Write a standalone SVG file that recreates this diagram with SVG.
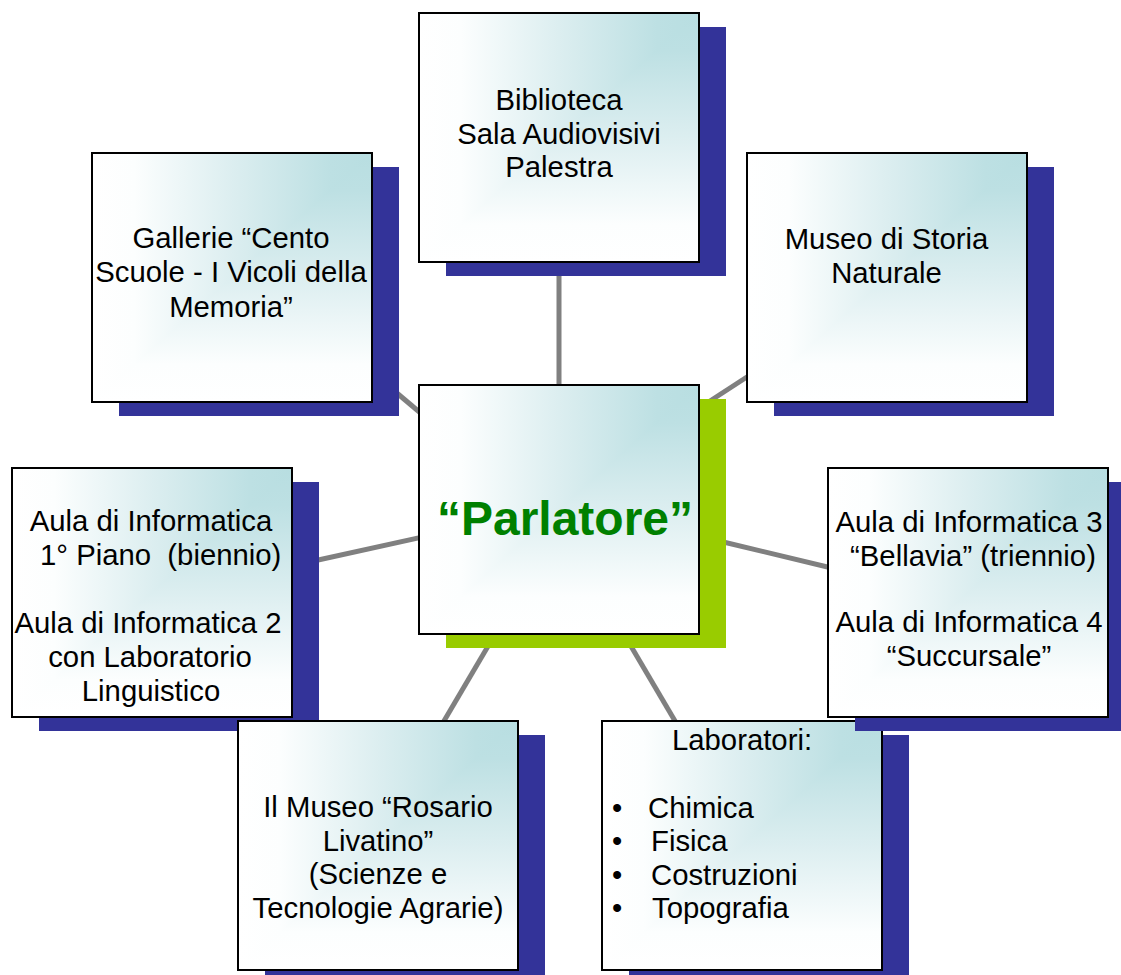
<svg xmlns="http://www.w3.org/2000/svg" xmlns:xlink="http://www.w3.org/1999/xlink" width="1121" height="975" viewBox="0 0 1121 975">
<style>
.conn{stroke:#808080;stroke-width:5;fill:none}
.bd{fill:none;stroke:#000;stroke-width:2}
.t{font-family:"Liberation Sans",Arial,sans-serif;font-size:29.3px;fill:#000;text-anchor:middle}
.ts{font-family:"Liberation Sans",Arial,sans-serif;font-size:29.3px;fill:#000;text-anchor:start}
.big{font-family:"Liberation Sans",Arial,sans-serif;font-size:48px;font-weight:bold;fill:#008000;text-anchor:middle}
</style>
<defs>
<linearGradient id="gv" x1="0" y1="0" x2="0" y2="1">
<stop offset="0" stop-color="#B8DEE1"/><stop offset="0.15" stop-color="#BDE0E3"/><stop offset="0.5" stop-color="#DCEEF0"/><stop offset="0.85" stop-color="#FCFEFE"/><stop offset="1" stop-color="#FFFFFF"/>
</linearGradient>
<linearGradient id="gh" x1="1" y1="0" x2="0" y2="0">
<stop offset="0" stop-color="#B8DEE1"/><stop offset="0.15" stop-color="#BDE0E3"/><stop offset="0.5" stop-color="#DCEEF0"/><stop offset="0.85" stop-color="#FCFEFE"/><stop offset="1" stop-color="#FFFFFF"/>
</linearGradient>
<g id="box">
<rect x="27" y="14" width="280" height="249"/>
<rect x="0" y="0" width="280" height="249" fill="url(#gv)"/>
<polygon points="0,0 280,0 0,249" fill="url(#gh)"/>
<rect class="bd" x="0" y="0" width="280" height="249"/>
</g>
</defs>
<rect x="0" y="0" width="1121" height="975" fill="#FFFFFF"/>
<g id="connectors">
<line class="conn" x1="559" y1="255" x2="559" y2="395"/>
<line class="conn" x1="385" y1="383" x2="430" y2="421"/>
<line class="conn" x1="700" y1="407.5" x2="760" y2="368.5"/>
<line class="conn" x1="715" y1="540" x2="840" y2="570"/>
<line class="conn" x1="300" y1="564" x2="430" y2="535.4"/>
<line class="conn" x1="495.2" y1="634" x2="438.1" y2="731"/>
<line class="conn" x1="623.8" y1="634" x2="680.9" y2="731"/>
</g>
<g id="n-biblioteca" transform="translate(419,13)">
<use xlink:href="#box" href="#box" fill="#333399"/>
<text class="t" x="140" y="97">Biblioteca</text>
<text class="t" x="140" y="130.5">Sala Audiovisivi</text>
<text class="t" x="140" y="164">Palestra</text>
</g>
<g id="n-gallerie" transform="translate(92,153)">
<use xlink:href="#box" href="#box" fill="#333399"/>
<text class="t" x="139" y="95">Gallerie “Cento</text>
<text class="t" x="139" y="129">Scuole - I Vicoli della</text>
<text class="t" x="139" y="163.5">Memoria”</text>
</g>
<g id="n-museo-storia" transform="translate(747,153)">
<use xlink:href="#box" href="#box" fill="#333399"/>
<text class="t" x="139.5" y="96">Museo di Storia</text>
<text class="t" x="139.5" y="130">Naturale</text>
</g>
<g id="n-parlatore" transform="translate(419,385)">
<use xlink:href="#box" href="#box" fill="#99CC00"/>
<text class="big" x="146" y="150">“Parlatore”</text>
</g>
<g id="n-aula12" transform="translate(12,468)">
<use xlink:href="#box" href="#box" fill="#333399"/>
<text class="t" x="139" y="63">Aula di Informatica</text>
<text class="ts" x="28" y="97" xml:space="preserve">1° Piano  (biennio)</text>
<text class="t" x="136" y="165">Aula di Informatica 2</text>
<text class="t" x="138" y="199">con Laboratorio</text>
<text class="t" x="139" y="233">Linguistico</text>
</g>
<g id="n-rosario" transform="translate(238,721)">
<use xlink:href="#box" href="#box" fill="#333399"/>
<text class="t" x="140" y="96">Il Museo “Rosario</text>
<text class="t" x="140" y="129.5">Livatino”</text>
<text class="t" x="140" y="163">(Scienze e</text>
<text class="t" x="140" y="197">Tecnologie Agrarie)</text>
</g>
<g id="n-laboratori" transform="translate(602,721)">
<use xlink:href="#box" href="#box" fill="#333399"/>
<text class="t" x="140" y="29">Laboratori:</text>
<text class="ts" x="10" y="96.5">•<tspan x="46">Chimica</tspan></text>
<text class="ts" x="10" y="130">•<tspan x="49">Fisica</tspan></text>
<text class="ts" x="10" y="163.5">•<tspan x="49">Costruzioni</tspan></text>
<text class="ts" x="10" y="197">•<tspan x="50">Topografia</tspan></text>
</g>
<g id="n-aula34" transform="translate(828,468)">
<use xlink:href="#box" href="#box" fill="#333399"/>
<text class="t" x="141" y="64">Aula di Informatica 3</text>
<text class="t" x="145" y="97.5">“Bellavia” (triennio)</text>
<text class="t" x="141" y="164">Aula di Informatica 4</text>
<text class="t" x="141" y="197.5">“Succursale”</text>
</g>
</svg>
